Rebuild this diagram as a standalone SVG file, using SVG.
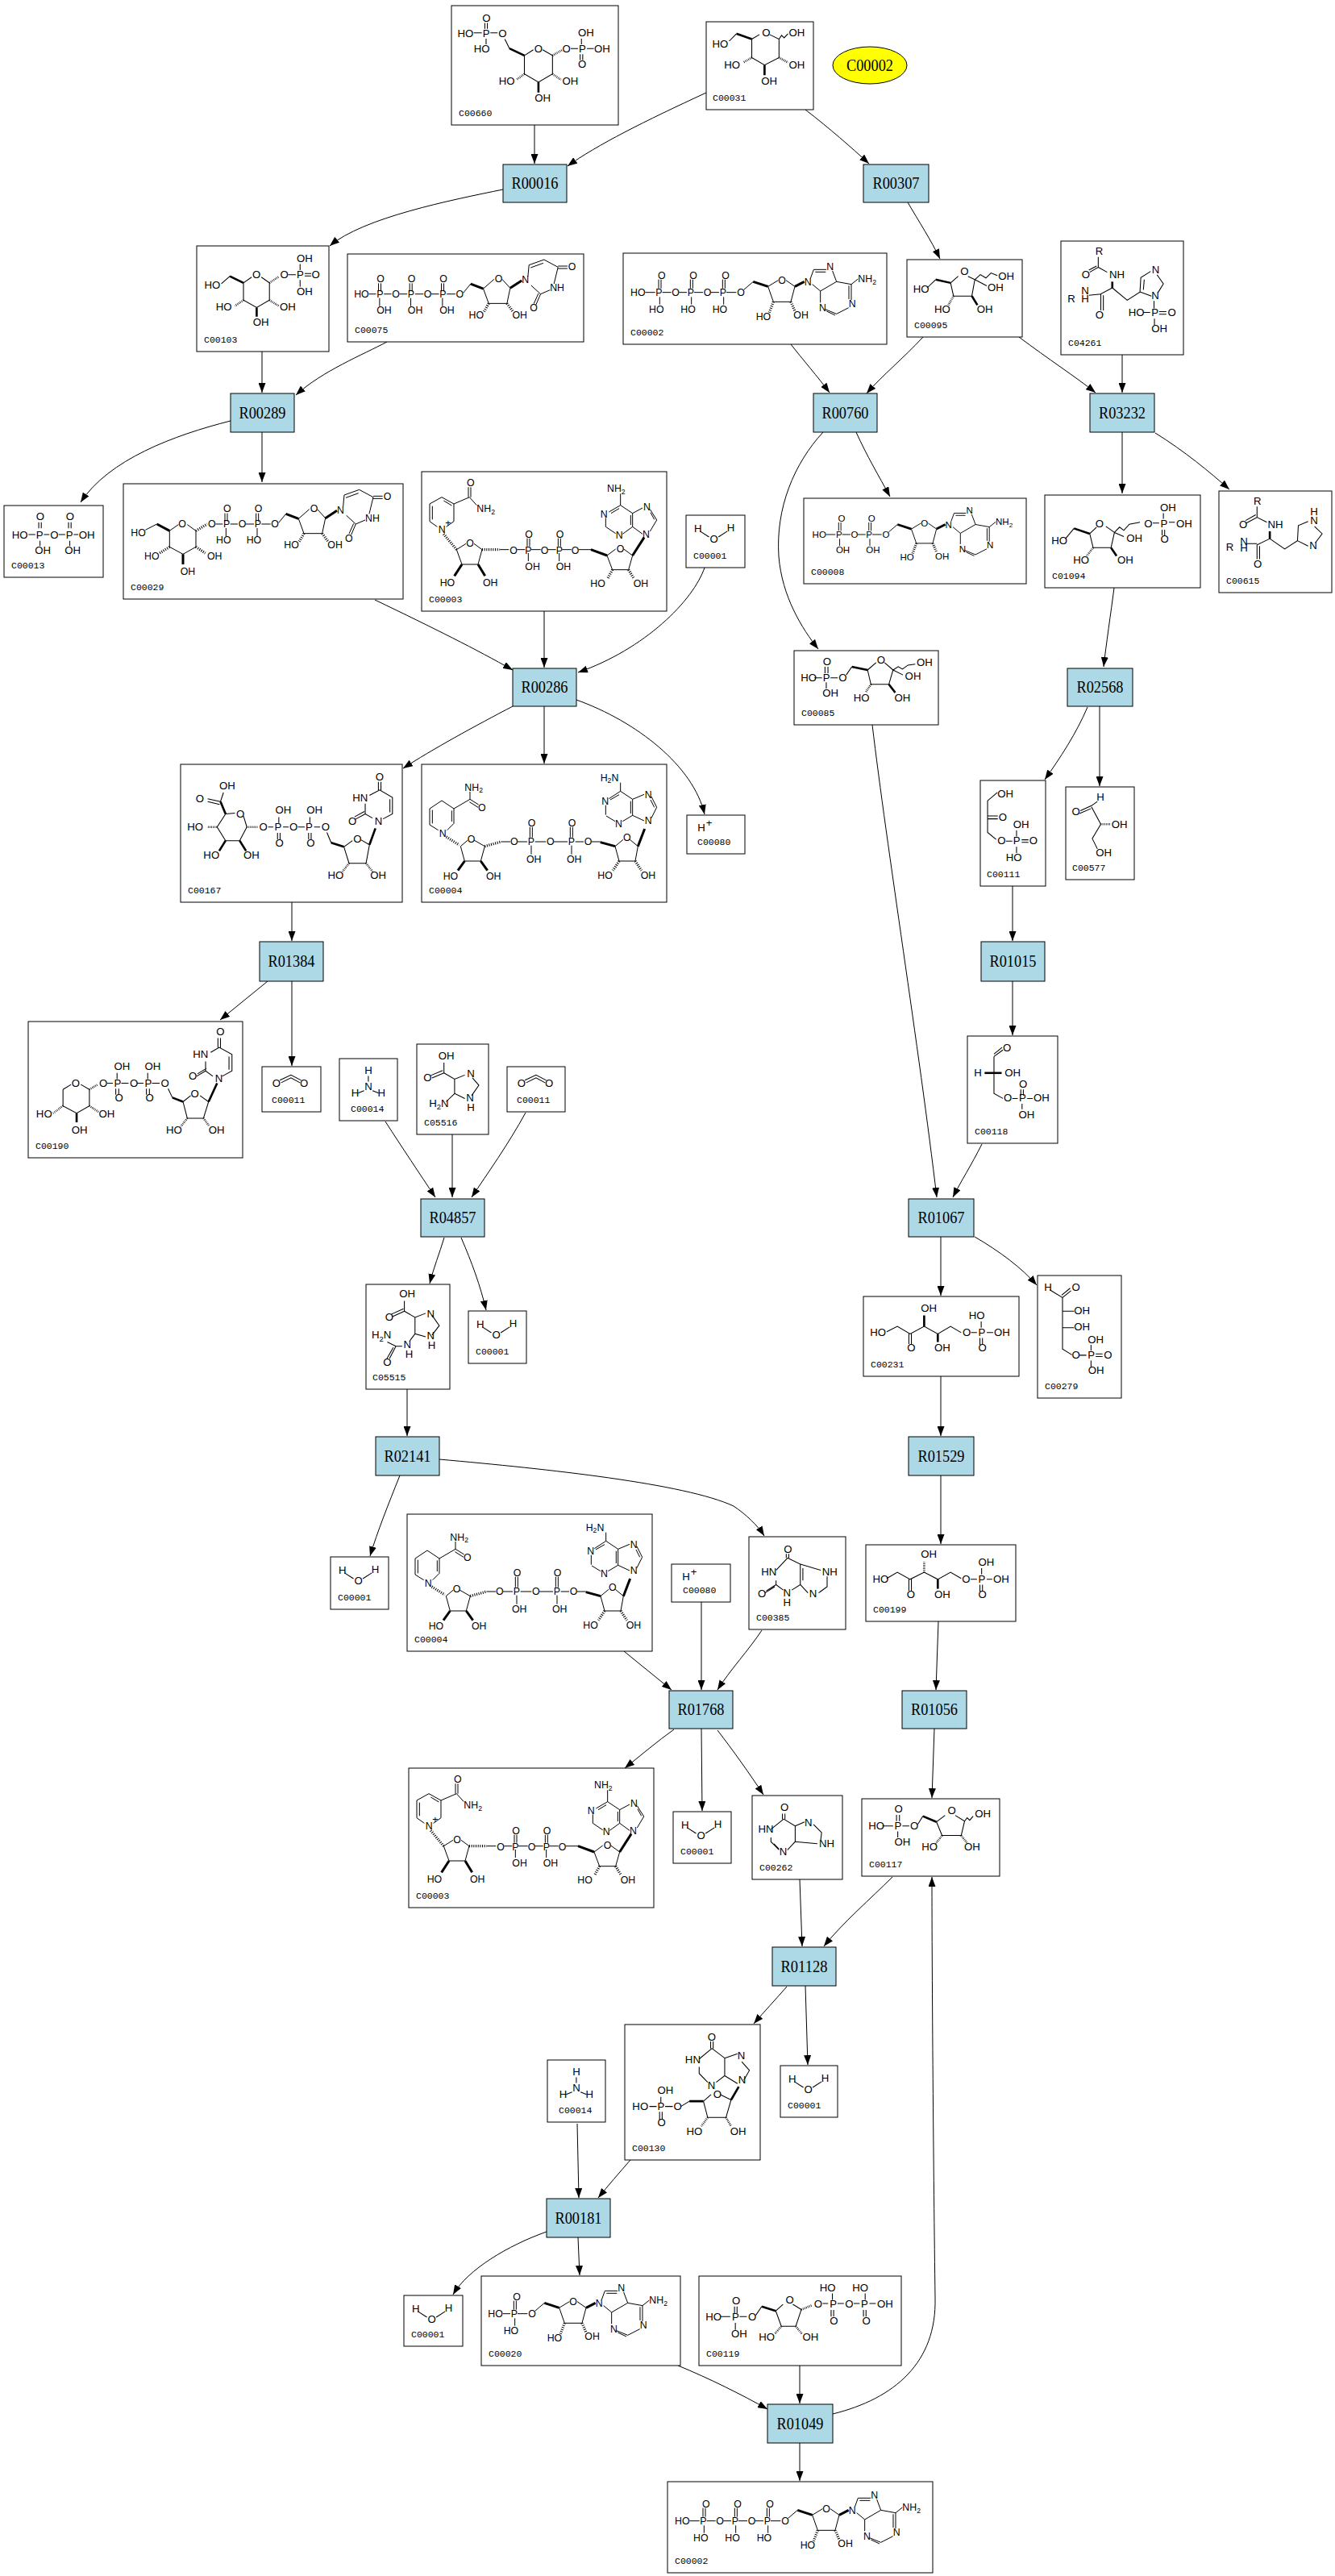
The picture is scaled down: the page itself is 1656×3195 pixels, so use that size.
<svg xmlns="http://www.w3.org/2000/svg" xmlns:xlink="http://www.w3.org/1999/xlink" width="1656" height="3195" viewBox="0 0 1656 3195">
<style>
.s text{font-family:"Liberation Sans",Arial,sans-serif;font-size:25px;fill:#000}
.s path{stroke:#000;stroke-width:2;fill:none}
.s path.w{stroke-width:5}
.s path.h{stroke-width:5;stroke-dasharray:1.5 2.5}
.sub{font-size:18px}
.t text{font-size:37px}
.t .sub{font-size:26px}
.t path{stroke-width:3}
.t path.w{stroke-width:9}
.t path.h{stroke-width:10;stroke-dasharray:3 5}
.lbl{font-family:"Liberation Mono",monospace;font-size:11.5px;fill:#000}
.rn rect{fill:#add8e6;stroke:#000;stroke-width:1}
.rn text,.en text{font-family:"Liberation Serif",serif;font-size:20px;text-anchor:middle;fill:#000}
.cn>rect{fill:#fff;stroke:#000;stroke-width:1}
#edges path{stroke:#000;stroke-width:1;fill:none;marker-end:url(#ah)}
</style>
<defs>
<marker id="ah" markerWidth="12" markerHeight="9" refX="12" refY="4.5" orient="auto" markerUnits="userSpaceOnUse"><path d="M0,0L12,4.5L0,9z" fill="#000"/></marker>
<g id="h2o" class="s"><text x="63" y="1295">H</text><text x="100" y="1320">O</text><text x="140" y="1293">H</text><path d="M77,1292L98,1306M120,1306L141,1292"/></g>
<g id="hplus" class="s"><text x="70" y="492">H</text><text x="90" y="480" font-size="16">+</text></g>
<g id="co2" class="s"><text x="640" y="1115">O</text><text x="705" y="1115">O</text><path d="M658,1098L684,1085L708,1098M661,1104L684,1092L705,1104"/></g>
<g id="nh3" class="s"><text x="857" y="1082">H</text><text x="826" y="1137">H</text><text x="857" y="1120">N</text><text x="888" y="1137">H</text><path d="M866,1086V1100M856,1122L842,1128M876,1122L890,1128"/></g>
<g id="nad" class="s t">
<text x="168" y="55">O</text><text x="205" y="150">NH<tspan class="sub" dy="8">2</tspan></text><text x="62" y="228">N</text><text x="88" y="205" font-size="24">+</text>
<text x="166" y="280">O</text><text x="68" y="425">HO</text><text x="228" y="425">OH</text>
<text x="328" y="305">O</text><text x="385" y="305">P</text><text x="443" y="305">O</text><text x="500" y="305">P</text><text x="557" y="305">O</text>
<text x="385" y="245">O</text><text x="500" y="245">O</text><text x="385" y="365">OH</text><text x="500" y="365">OH</text>
<text x="725" y="300">O</text><text x="628" y="430">HO</text><text x="788" y="430">OH</text>
<text x="690" y="75">NH<tspan class="sub" dy="8">2</tspan></text><text x="665" y="170">N</text><text x="722" y="250">N</text><text x="825" y="145">N</text><text x="822" y="245">N</text>
<path d="M75,95L120,120V185M120,185L92,205M58,205L30,185V120L75,95M40,128V178M82,108L112,126M120,120L178,95M174,95V58M183,95V58M178,95L205,125M130,290L165,268M195,268L225,290L210,345H150L130,290M290,290H325M355,290H385M408,290H443M470,290H500M523,290H557M393,248V278M402,248V278M508,248V278M517,248V278M397,303V333M512,303V333M585,290H630M690,312L722,288M752,288L785,312L770,365H710L690,312M785,155L822,135M850,140L875,180L850,222M822,232L785,205V155L740,125V82M740,125L697,150M685,172V205L722,230M748,232L785,205M778,162V198M852,152L866,178M735,137L705,155"/>
<path class="w" d="M150,345L122,388M210,345L236,388M630,290L690,312M785,312L828,245"/>
<path class="h" d="M82,232L130,290M225,290H290M710,365L692,398M770,365L790,398"/>
</g>
<g id="nadh" class="s t">
<text x="160" y="98">NH<tspan class="sub" dy="8">2</tspan></text><text x="210" y="175">O</text><text x="65" y="270">N</text><text x="170" y="290">O</text><text x="80" y="428">HO</text><text x="240" y="428">OH</text>
<text x="330" y="300">O</text><text x="395" y="300">P</text><text x="465" y="300">O</text><text x="545" y="300">P</text><text x="605" y="300">O</text>
<text x="395" y="230">O</text><text x="545" y="230">O</text><text x="390" y="365">OH</text><text x="540" y="365">OH</text>
<text x="750" y="285">O</text><text x="655" y="425">HO</text><text x="815" y="425">OH</text>
<text x="665" y="62">H<tspan class="sub" dy="8">2</tspan><tspan dy="-8">N</tspan></text><text x="670" y="150">N</text><text x="720" y="235">N</text><text x="830" y="125">N</text><text x="830" y="222">N</text>
<path d="M75,135L120,165V220M120,220L95,245M62,245L30,225V165L75,135M40,170V220M112,172V213M120,165L180,130V102M180,130L212,150M178,140L210,160M145,305L172,282M195,282L235,305L220,360H160L145,305M295,288H330M357,288H393M422,288H463M492,288H543M572,288H603M403,233V272M412,233V272M553,233V272M562,233V272M408,302V335M558,302V335M632,288H665M720,305L750,280M775,280L805,305L795,360H735L720,305M740,100V68M740,100L697,128M685,152V188M687,192L720,212M748,212L785,190V130L740,100M735,113L702,132M778,137V183M785,130L828,112M855,120L875,160L855,200M828,210L785,190M852,132L866,160"/>
<path class="w" d="M160,360L135,395M220,360L245,395M665,290L720,305M805,305L830,240"/>
<path class="h" d="M92,270L140,300M235,305L295,288M735,360L712,395M795,360L818,395"/>
</g>
<g id="ado" class="s t">
<text x="175" y="153">O</text><text x="328" y="108">O</text><text x="245" y="243">HO</text><text x="385" y="238">OH</text><text x="425" y="113">N</text><text x="508" y="58">N</text><text x="625" y="103">NH<tspan class="sub" dy="8">2</tspan></text><text x="590" y="195">N</text><text x="480" y="210">N</text>
<path d="M200,130L235,100M290,118L328,95M357,95L390,118L375,175H310L290,118M448,88L460,55H507M466,64H505M530,60L545,100L485,135L455,110M485,135V178M503,203L545,220L590,197M600,168V110M591,165V115M600,110L545,100M600,110L625,90M508,210L540,225"/>
<path class="w" d="M235,100L290,118M390,118L425,100"/>
<path class="h" d="M310,175L295,215M375,175L390,210"/>
</g>
<g id="atp" class="s t">
<use xlink:href="#ado" href="#ado"/>
<text x="-222" y="153">HO</text><text x="-128" y="153">P</text><text x="-68" y="153">O</text><text x="-10" y="153">P</text><text x="50" y="153">O</text><text x="110" y="153">P</text>
<text x="-120" y="90">O</text><text x="-2" y="90">O</text><text x="118" y="90">O</text>
<text x="-153" y="215">HO</text><text x="-35" y="215">HO</text><text x="83" y="215">HO</text>
<path d="M-167,140H-130M-103,140H-70M-41,140H-12M15,140H48M77,140H108M135,140H172M-117,92V125M-108,92V125M1,92V125M10,92V125M121,92V125M130,92V125M-113,157V185M5,157V185M125,157V185"/>
</g>
<g id="urd" class="s t">
<text x="550" y="162">O</text><text x="695" y="105">O</text><text x="598" y="240">HO</text><text x="760" y="240">OH</text><text x="795" y="110">N</text><text x="900" y="140">NH</text><text x="968" y="60">O</text><text x="825" y="215">O</text>
<path d="M578,145L605,112M652,130L692,95M722,95L752,128L740,185H672L652,130M818,85L822,42L878,22M828,52L875,35M878,22L930,50M930,46H965M930,55H965M930,50L915,112M900,135L865,150L830,118M865,150L848,190M857,148L840,186"/>
<path class="w" d="M605,112L652,130M752,128L795,100"/>
<path class="h" d="M672,185L655,215M740,185L762,215"/>
</g>
</defs>
<rect width="1656" height="3195" fill="#fff"/>

<g id="edges">
<path d="M663,155L663,203"/>
<path d="M876,115C800,150 740,180 704,206"/>
<path d="M999,136C1030,160 1055,182 1078,203"/>
<path d="M624,235C560,248 450,270 409,305"/>
<path d="M1126,251C1140,275 1155,298 1166,321"/>
<path d="M325,436L325,487"/>
<path d="M480,424C450,440 400,460 367,490"/>
<path d="M286,522C215,540 135,570 100,623"/>
<path d="M325,536L325,598"/>
<path d="M981,427C995,445 1015,468 1029,487"/>
<path d="M1145,418C1120,445 1095,465 1075,488"/>
<path d="M1264,418C1300,445 1335,468 1359,487"/>
<path d="M1392,440L1392,487"/>
<path d="M1062,536C1075,565 1090,590 1104,616"/>
<path d="M1021,536C985,575 962,630 966,690C970,740 995,780 1015,805"/>
<path d="M1392,536L1392,612"/>
<path d="M1433,537C1470,560 1500,585 1525,607"/>
<path d="M874,704C860,745 800,805 717,834"/>
<path d="M465,744C540,780 590,805 636,831"/>
<path d="M675,758L675,828"/>
<path d="M636,876C590,900 535,930 500,953"/>
<path d="M675,876L675,947"/>
<path d="M715,868C790,895 860,950 874,1010"/>
<path d="M362,1119L362,1167"/>
<path d="M332,1217L273,1265"/>
<path d="M362,1217L362,1322"/>
<path d="M478,1391C500,1425 520,1455 540,1485"/>
<path d="M561,1407L561,1485"/>
<path d="M652,1380C630,1420 605,1455 585,1485"/>
<path d="M1082,899C1100,1050 1140,1300 1162,1485"/>
<path d="M1382,729C1378,760 1372,800 1369,827"/>
<path d="M1349,877C1335,910 1315,940 1296,967"/>
<path d="M1364,876L1364,975"/>
<path d="M1256,1099L1256,1167"/>
<path d="M1256,1217L1256,1284"/>
<path d="M1218,1419C1205,1445 1192,1465 1182,1485"/>
<path d="M1167,1534L1167,1607"/>
<path d="M1209,1534C1240,1552 1268,1573 1286,1594"/>
<path d="M551,1535C545,1555 538,1572 533,1592"/>
<path d="M572,1535C585,1565 596,1595 603,1625"/>
<path d="M505,1723L505,1781"/>
<path d="M496,1830C482,1865 468,1900 459,1930"/>
<path d="M545,1810C680,1822 850,1840 910,1868C925,1878 940,1892 948,1905"/>
<path d="M774,2048L833,2096"/>
<path d="M870,1987L870,2096"/>
<path d="M945,2022C930,2045 905,2072 890,2096"/>
<path d="M836,2145C815,2160 795,2177 775,2193"/>
<path d="M870,2144L871,2246"/>
<path d="M890,2146C910,2172 930,2200 947,2226"/>
<path d="M1167,1707L1167,1781"/>
<path d="M1167,1830L1167,1915"/>
<path d="M1164,2011L1161,2096"/>
<path d="M1159,2144L1156,2230"/>
<path d="M992,2331L995,2414"/>
<path d="M1107,2328C1080,2355 1045,2385 1022,2414"/>
<path d="M1033,2994C1110,2975 1162,2930 1160,2850C1158,2700 1156,2450 1156,2328"/>
<path d="M976,2464C962,2480 948,2495 935,2510"/>
<path d="M999,2463L1002,2561"/>
<path d="M716,2634L718,2726"/>
<path d="M782,2679C768,2695 755,2710 742,2726"/>
<path d="M678,2768C630,2785 580,2815 562,2846"/>
<path d="M717,2775L719,2822"/>
<path d="M841,2934C880,2950 920,2970 952,2988"/>
<path d="M992,2934L992,2981"/>
<path d="M992,3030L992,3077"/>
</g>

<g id="R00016" class="rn"><rect x="624" y="204" width="79" height="47"/><text x="663.5" y="234" textLength="58" lengthAdjust="spacingAndGlyphs">R00016</text></g>
<g id="R00307" class="rn"><rect x="1071" y="204" width="81" height="47"/><text x="1111.5" y="234" textLength="58" lengthAdjust="spacingAndGlyphs">R00307</text></g>
<g id="R00289" class="rn"><rect x="286" y="488" width="79" height="48"/><text x="325.5" y="519" textLength="58" lengthAdjust="spacingAndGlyphs">R00289</text></g>
<g id="R00760" class="rn"><rect x="1009" y="488" width="79" height="48"/><text x="1048.5" y="519" textLength="58" lengthAdjust="spacingAndGlyphs">R00760</text></g>
<g id="R03232" class="rn"><rect x="1352" y="488" width="80" height="48"/><text x="1392" y="519" textLength="58" lengthAdjust="spacingAndGlyphs">R03232</text></g>
<g id="R00286" class="rn"><rect x="636" y="829" width="79" height="47"/><text x="675.5" y="859" textLength="58" lengthAdjust="spacingAndGlyphs">R00286</text></g>
<g id="R02568" class="rn"><rect x="1324" y="829" width="81" height="47"/><text x="1364.5" y="859" textLength="58" lengthAdjust="spacingAndGlyphs">R02568</text></g>
<g id="R01384" class="rn"><rect x="322" y="1168" width="79" height="49"/><text x="361.5" y="1199" textLength="58" lengthAdjust="spacingAndGlyphs">R01384</text></g>
<g id="R01015" class="rn"><rect x="1217" y="1168" width="79" height="49"/><text x="1256.5" y="1199" textLength="58" lengthAdjust="spacingAndGlyphs">R01015</text></g>
<g id="R04857" class="rn"><rect x="522" y="1487" width="79" height="47"/><text x="561.5" y="1517" textLength="58" lengthAdjust="spacingAndGlyphs">R04857</text></g>
<g id="R01067" class="rn"><rect x="1127" y="1487" width="81" height="47"/><text x="1167.5" y="1517" textLength="58" lengthAdjust="spacingAndGlyphs">R01067</text></g>
<g id="R02141" class="rn"><rect x="466" y="1782" width="79" height="48"/><text x="505.5" y="1813" textLength="58" lengthAdjust="spacingAndGlyphs">R02141</text></g>
<g id="R01529" class="rn"><rect x="1127" y="1782" width="81" height="48"/><text x="1167.5" y="1813" textLength="58" lengthAdjust="spacingAndGlyphs">R01529</text></g>
<g id="R01768" class="rn"><rect x="830" y="2097" width="79" height="47"/><text x="869.5" y="2127" textLength="58" lengthAdjust="spacingAndGlyphs">R01768</text></g>
<g id="R01056" class="rn"><rect x="1119" y="2097" width="80" height="47"/><text x="1159" y="2127" textLength="58" lengthAdjust="spacingAndGlyphs">R01056</text></g>
<g id="R01128" class="rn"><rect x="958" y="2415" width="79" height="48"/><text x="997.5" y="2446" textLength="58" lengthAdjust="spacingAndGlyphs">R01128</text></g>
<g id="R00181" class="rn"><rect x="678" y="2727" width="79" height="48"/><text x="717.5" y="2758" textLength="58" lengthAdjust="spacingAndGlyphs">R00181</text></g>
<g id="R01049" class="rn"><rect x="952" y="2982" width="81" height="48"/><text x="992.5" y="3013" textLength="58" lengthAdjust="spacingAndGlyphs">R01049</text></g>

<g id="C00002_title" class="en"><ellipse cx="1079" cy="81" rx="46" ry="23" fill="#ffff00" stroke="#000"/><text x="1079" y="88" textLength="58" lengthAdjust="spacingAndGlyphs">C00002</text></g>

<g id="C00660" class="cn"><rect x="560" y="7" width="207" height="148"/><text class="lbl" x="569" y="144">C00660</text>
<g class="s" transform="scale(0.528,0.51)">
<text x="1133" y="52">O</text><text x="1075" y="90">HO</text><text x="1134" y="90">P</text><text x="1171" y="90">O</text><text x="1113" y="128">HO</text><text x="1255" y="128">O</text><text x="1321" y="128">O</text><text x="1360" y="128">P</text><text x="1396" y="128">OH</text><text x="1358" y="88">OH</text><text x="1358" y="165">O</text><text x="1172" y="205">HO</text><text x="1321" y="205">OH</text><text x="1256" y="247">OH</text>
<path d="M1139,56V70M1145,56V70M1113,80H1132M1152,80H1169M1142,94V108M1186,95L1197,118M1232,135L1253,121M1275,121L1298,135V180L1265,200L1232,180V135M1341,118H1358M1379,118H1395M1366,94V108M1363,132V146M1369,132V146"/>
<path class="w" d="M1197,118L1232,135M1265,200V225"/>
<path class="h" d="M1298,135L1320,122M1232,180L1213,194M1298,180L1318,194"/>
</g></g>

<g id="C00031" class="cn"><rect x="876" y="27" width="133" height="109"/><text class="lbl" x="884" y="125">C00031</text>
<g class="s" transform="translate(828,0) scale(0.528,0.51)">
<text x="105" y="115">HO</text><text x="222" y="88">O</text><text x="285" y="88">OH</text><text x="133" y="167">HO</text><text x="285" y="167">OH</text><text x="220" y="205">OH</text>
<path d="M145,100L162,82M198,95L216,84M240,84L262,95V140L228,158L198,140V95M262,95L268,86L274,92L283,82"/>
<path class="w" d="M162,82L198,95M228,158V183"/>
<path class="h" d="M198,140L178,152M262,140L283,152"/>
</g></g>

<g id="C00103" class="cn"><rect x="244" y="305" width="164" height="131"/><text class="lbl" x="253" y="425">C00103</text>
<g class="s" transform="scale(0.528,0.51)">
<text x="697" y="637">OH</text><text x="658" y="677">O</text><text x="697" y="677">P</text><text x="732" y="677">O</text><text x="697" y="718">OH</text><text x="593" y="677">O</text><text x="480" y="702">HO</text><text x="507" y="755">HO</text><text x="657" y="755">OH</text><text x="594" y="793">OH</text>
<path d="M572,688L591,674M614,674L633,688V730L603,748L572,730V688M677,668H695M716,665H731M716,671H731M705,642V657M705,681V697M540,672L520,690"/>
<path class="w" d="M540,672L572,688M603,748V770"/>
<path class="h" d="M633,688L656,672M572,730L552,744M633,730L655,744"/>
</g></g>

<g id="C00075" class="cn"><rect x="431" y="315" width="293" height="109"/><text class="lbl" x="440" y="413">C00075</text>
<g class="s t" transform="translate(382.2,314.7) scale(0.33333)">
<use xlink:href="#urd" href="#urd"/>
<text x="171" y="162">HO</text><text x="255" y="162">P</text><text x="312" y="162">O</text><text x="371" y="162">P</text><text x="431" y="162">O</text><text x="489" y="162">P</text>
<text x="255" y="105">O</text><text x="371" y="105">O</text><text x="489" y="105">O</text><text x="255" y="222">OH</text><text x="371" y="222">OH</text><text x="489" y="222">OH</text>
<path d="M226,150H253M282,150H310M340,150H369M398,150H429M458,150H487M516,150H548M262,110V140M271,110V140M378,110V140M387,110V140M496,110V140M505,110V140M266,165V195M382,165V195M500,165V195"/>
</g></g>

<g id="C00002_1" class="cn"><rect x="773" y="314" width="327" height="113"/><text class="lbl" x="782" y="416">C00002</text>
<use xlink:href="#atp" href="#atp" transform="translate(856,316) scale(0.33333)"/></g>

<g id="C00095" class="cn"><rect x="1125" y="322" width="143" height="96"/><text class="lbl" x="1134" y="407">C00095</text>
<g class="s" transform="translate(828,0) scale(0.528,0.51)">
<text x="688" y="668">O</text><text x="777" y="680">OH</text><text x="752" y="707">OH</text><text x="577" y="712">HO</text><text x="627" y="760">HO</text><text x="727" y="760">OH</text>
<path d="M610,700L630,680M665,688L683,672M706,672L722,680L715,720H672L665,688M722,680L735,668L748,676L760,664L775,670M722,680L750,695"/>
<path class="w" d="M630,680L665,688M715,720L728,742"/>
<path class="h" d="M672,720L660,742"/>
</g></g>

<g id="C04261" class="cn"><rect x="1316" y="299" width="152" height="141"/><text class="lbl" x="1325" y="429">C04261</text>
<g class="s" transform="translate(828,0) scale(0.528,0.51)">
<text x="1005" y="620">R</text><text x="973" y="677">O</text><text x="1038" y="677">NH</text><text x="940" y="735">R</text><text x="972" y="715">N</text><text x="972" y="735">H</text><text x="1005" y="775">O</text><text x="1138" y="665">N</text><text x="1137" y="727">N</text><text x="1083" y="768">HO</text><text x="1137" y="768">P</text><text x="1175" y="768">O</text><text x="1137" y="807">OH</text>
<path d="M1012,625V650L992,662M1008,647L990,657M1012,650L1033,662M1045,700L1018,715V755M1024,718V755M990,718L1018,715M1045,700L1080,730L1110,710L1112,675L1135,660M1150,668L1165,690L1152,712M1137,720L1110,710M1118,705L1120,680M1143,732V750M1118,760H1134M1155,758H1172M1155,764H1172M1144,775V790"/>
<path class="w" d="M1045,685V700"/>
</g></g>

<g id="C00013" class="cn"><rect x="5" y="627" width="123" height="89"/><text class="lbl" x="14" y="705">C00013</text>
<g class="s" transform="scale(0.528,0.51)">
<text x="85" y="1265">O</text><text x="155" y="1265">O</text><text x="28" y="1310">HO</text><text x="85" y="1310">P</text><text x="118" y="1310">O</text><text x="155" y="1310">P</text><text x="185" y="1310">OH</text><text x="82" y="1348">OH</text><text x="152" y="1348">OH</text>
<path d="M91,1270V1285M97,1270V1285M161,1270V1285M167,1270V1285M67,1300H83M103,1300H116M138,1300H153M173,1300H184M94,1315V1328M164,1315V1328"/>
</g></g>

<g id="C00029" class="cn"><rect x="153" y="600" width="347" height="143"/><text class="lbl" x="162" y="732">C00029</text>
<g class="s t" transform="translate(153,600) scale(0.33333)">
<use xlink:href="#urd" href="#urd"/>
<text x="28" y="195">HO</text><text x="205" y="162">O</text><text x="315" y="162">O</text><text x="372" y="162">P</text><text x="428" y="162">O</text><text x="488" y="162">P</text><text x="372" y="105">O</text><text x="488" y="105">O</text><text x="345" y="222">HO</text><text x="458" y="222">HO</text><text x="78" y="282">HO</text><text x="312" y="282">OH</text><text x="212" y="340">OH</text>
<path d="M82,172L125,150M172,175L205,152M238,152L270,175V235L222,262L172,235V175M343,150H370M398,150H426M455,150H486M514,150H548M378,110V140M387,110V140M494,110V140M503,110V140M382,165V195M498,165V195"/>
<path class="w" d="M125,150L172,175M222,262V300"/>
<path class="h" d="M172,235L135,258M270,235L305,258M270,175L312,150"/>
</g></g>

<g id="C00003_1" class="cn"><rect x="523" y="585" width="304" height="173"/><text class="lbl" x="532" y="747">C00003</text>
<use xlink:href="#nad" href="#nad" transform="translate(523,585) scale(0.33333)"/></g>

<g id="C00001_1" class="cn"><rect x="851" y="639" width="73" height="65"/><text class="lbl" x="860" y="693">C00001</text>
<use xlink:href="#h2o" href="#h2o" transform="translate(851,639) scale(0.528,0.51) translate(-44,-1253)"/></g>

<g id="C00008" class="cn"><rect x="997" y="618" width="276" height="106"/><text class="lbl" x="1006" y="713">C00008</text>
<g class="s t" transform="translate(1040,619.3) scale(0.312)">
<use xlink:href="#ado" href="#ado"/>
<text x="-104" y="153">HO</text><text x="-10" y="153">P</text><text x="50" y="153">O</text><text x="110" y="153">P</text><text x="-2" y="90">O</text><text x="118" y="90">O</text><text x="-10" y="215">OH</text><text x="110" y="215">OH</text>
<path d="M-49,140H-12M15,140H48M77,140H108M135,140H172M1,92V125M10,92V125M121,92V125M130,92V125M5,157V185M125,157V185"/>
</g></g>

<g id="C01094" class="cn"><rect x="1296" y="614" width="193" height="115"/><text class="lbl" x="1305" y="718">C01094</text>
<g class="s" transform="translate(828,0) scale(0.528,0.51)">
<text x="1005" y="1282">O</text><text x="1157" y="1243">OH</text><text x="1120" y="1282">O</text><text x="1158" y="1282">P</text><text x="1195" y="1282">OH</text><text x="1158" y="1320">O</text><text x="1078" y="1318">OH</text><text x="902" y="1323">HO</text><text x="953" y="1370">HO</text><text x="1057" y="1370">OH</text>
<path d="M935,1310L955,1285M992,1298L1008,1282M1030,1280L1050,1295L1042,1332H1000L992,1298M1050,1295L1062,1282L1072,1290L1085,1275L1110,1270M1050,1295L1072,1305M1140,1272H1155M1178,1270H1192M1165,1248V1262M1162,1288V1302M1168,1288V1302"/>
<path class="w" d="M955,1285L992,1298M1042,1332L1055,1352"/>
<path class="h" d="M1000,1332L985,1352"/>
</g></g>

<g id="C00615" class="cn"><rect x="1512" y="609" width="140" height="126"/><text class="lbl" x="1521" y="724">C00615</text>
<g class="s" transform="translate(828,0) scale(0.528,0.51)">
<text x="1377" y="1228">R</text><text x="1343" y="1285">O</text><text x="1410" y="1285">NH</text><text x="1312" y="1340">R</text><text x="1345" y="1325">N</text><text x="1345" y="1342">H</text><text x="1377" y="1380">O</text><text x="1510" y="1252">H</text><text x="1510" y="1275">N</text><text x="1508" y="1335">N</text>
<path d="M1385,1232V1258L1360,1272M1382,1252L1358,1266M1385,1258L1408,1270M1415,1310L1385,1325V1360M1391,1328V1360M1360,1322H1385M1415,1310L1450,1335L1480,1315L1482,1278L1505,1268M1520,1280L1538,1298L1522,1320M1505,1328L1480,1315"/>
<path class="w" d="M1415,1292V1310"/>
</g></g>

<g id="C00085" class="cn"><rect x="985" y="807" width="179" height="92"/><text class="lbl" x="994" y="888">C00085</text>
<g class="s" transform="translate(828,780) scale(0.528,0.51)">
<text x="365" y="88">O</text><text x="313" y="127">HO</text><text x="365" y="127">P</text><text x="402" y="127">O</text><text x="364" y="165">OH</text><text x="492" y="85">O</text><text x="585" y="90">OH</text><text x="558" y="123">OH</text><text x="437" y="177">HO</text><text x="533" y="177">OH</text>
<path d="M370,92V108M377,92V108M345,119H363M383,119H400M373,130V145M420,112L433,92M470,100L490,82M510,82L530,100L520,135H478L470,100M530,100L542,92L552,98L565,88L582,86M530,100L553,112"/>
<path class="w" d="M433,92L470,100M520,135L535,155"/>
<path class="h" d="M478,135L465,155"/>
</g></g>

<g id="C00167" class="cn"><rect x="224" y="948" width="275" height="171"/><text class="lbl" x="233" y="1108">C00167</text>
<g class="s" transform="translate(0,780) scale(0.528,0.51)">
<text x="515" y="390">OH</text><text x="460" y="422">O</text><text x="440" y="491">HO</text><text x="555" y="459">O</text><text x="609" y="491">O</text><text x="645" y="491">P</text><text x="680" y="491">O</text><text x="718" y="491">P</text><text x="755" y="491">O</text><text x="647" y="450">OH</text><text x="720" y="450">OH</text><text x="647" y="530">O</text><text x="720" y="530">O</text><text x="478" y="558">HO</text><text x="572" y="558">OH</text><text x="830" y="520">O</text><text x="770" y="607">HO</text><text x="870" y="607">OH</text><text x="882" y="368">O</text><text x="828" y="420">HN</text><text x="818" y="477">O</text><text x="880" y="476">N</text>
<path d="M530,450L552,448M572,455L580,482L563,515H530L510,482L530,450M518,420L525,398M518,420L488,413M516,427L488,420M630,482H642M665,482H678M700,482H716M738,482H752M655,458V472M728,458V472M652,496V512M658,496V512M725,496V512M731,496V512M768,495L778,520M808,530L828,515M848,513L868,525L860,570H820L808,530M900,462L922,450V410L892,392L868,405M858,425V450L875,460M889,392V372M895,392V372M858,450L835,463M856,444L833,457M916,414V446"/>
<path class="w" d="M530,450L518,420M778,520L808,530M868,525L882,485M530,515L515,540M563,515L578,540"/>
<path class="h" d="M510,482L488,482M580,482L605,482M820,570L805,590M860,570L875,590"/>
</g></g>

<g id="C00004_1" class="cn"><rect x="523" y="948" width="304" height="171"/><text class="lbl" x="532" y="1108">C00004</text>
<use xlink:href="#nadh" href="#nadh" transform="translate(523,948) scale(0.33333)"/></g>

<g id="C00080_1" class="cn"><rect x="852" y="1011" width="72" height="48"/><text class="lbl" x="865" y="1048">C00080</text>
<use xlink:href="#hplus" href="#hplus" transform="translate(852,1011) scale(0.528,0.51) translate(-45,-452)"/></g>

<g id="C00111" class="cn"><rect x="1216" y="968" width="81" height="131"/><text class="lbl" x="1224" y="1088">C00111</text>
<g class="s" transform="translate(828,780) scale(0.528,0.51)">
<text x="775" y="410">OH</text><text x="778" y="467">O</text><text x="812" y="485">OH</text><text x="775" y="524">O</text><text x="812" y="524">P</text><text x="850" y="524">O</text><text x="795" y="565">HO</text>
<path d="M775,398L752,418V495L772,512M752,455H776M752,462H776M795,516H810M832,513H848M832,519H848M820,490V505M820,530V545"/>
</g></g>

<g id="C00577" class="cn"><rect x="1322" y="976" width="85" height="115"/><text class="lbl" x="1330" y="1080">C00577</text>
<g class="s" transform="translate(828,780) scale(0.528,0.51)">
<text x="1008" y="418">H</text><text x="950" y="452">O</text><text x="1043" y="485">OH</text><text x="1006" y="553">OH</text>
<path d="M970,442L996,430L1010,420M968,449L995,437M996,433L1018,475L998,510L1010,535"/>
<path class="h" d="M1018,475L1040,475"/>
</g></g>

<g id="C00190" class="cn"><rect x="35" y="1267" width="266" height="169"/><text class="lbl" x="44" y="1425">C00190</text>
<g class="s" transform="translate(0,780) scale(0.528,0.51)">
<text x="168" y="1113">O</text><text x="233" y="1113">O</text><text x="268" y="1113">P</text><text x="305" y="1113">O</text><text x="340" y="1113">P</text><text x="378" y="1113">O</text><text x="268" y="1073">OH</text><text x="340" y="1073">OH</text><text x="270" y="1150">O</text><text x="342" y="1150">O</text><text x="85" y="1188">HO</text><text x="232" y="1188">OH</text><text x="168" y="1228">OH</text><text x="448" y="1140">O</text><text x="390" y="1228">HO</text><text x="490" y="1228">OH</text><text x="508" y="988">O</text><text x="453" y="1043">HN</text><text x="443" y="1097">O</text><text x="505" y="1102">N</text>
<path d="M148,1120L167,1108M190,1108L210,1120V1160L180,1178L148,1160V1120M252,1105H265M285,1105H302M322,1105H337M357,1105H375M275,1080V1095M347,1080V1095M272,1118V1133M279,1118V1133M344,1118V1133M351,1118V1133M395,1118L405,1140M430,1150L448,1135M470,1135L490,1150L478,1190H440L430,1150M522,1088L545,1075V1035L515,1018L495,1030M483,1052V1075L500,1088M538,1040V1072M512,1018V995M518,1018V995M483,1075L462,1088M485,1069L464,1082"/>
<path class="w" d="M405,1140L430,1150M490,1150L510,1105M180,1178V1200"/>
<path class="h" d="M148,1160L125,1178M210,1160L232,1175M210,1120L230,1108M440,1190L425,1210M478,1190L492,1210"/>
</g></g>

<g id="C00011_1" class="cn"><rect x="325" y="1323" width="73" height="56"/><text class="lbl" x="337" y="1368">C00011</text>
<use xlink:href="#co2" href="#co2" transform="translate(325,1323) scale(0.528,0.51) translate(-616,-1065)"/></g>

<g id="C00014_1" class="cn"><rect x="421" y="1313" width="72" height="77"/><text class="lbl" x="435" y="1379">C00014</text>
<use xlink:href="#nh3" href="#nh3" transform="translate(421,1313) scale(0.528,0.51) translate(-798,-1044)"/></g>

<g id="C05516" class="cn"><rect x="517" y="1295" width="89" height="112"/><text class="lbl" x="526" y="1396">C05516</text>
<g class="s" transform="translate(0,780) scale(0.528,0.51)">
<text x="1030" y="1047">OH</text><text x="995" y="1100">O</text><text x="1097" y="1090">N</text><text x="1008" y="1162">H<tspan class="sub" dy="6">2</tspan><tspan dy="-6">N</tspan></text><text x="1095" y="1150">N</text><text x="1097" y="1172">H</text>
<path d="M1043,1080V1055M1043,1080L1015,1092M1040,1074L1012,1086M1043,1080L1068,1095L1092,1085M1110,1092L1125,1110L1108,1135M1092,1142L1068,1130V1095M1068,1130L1048,1150"/>
</g></g>

<g id="C00011_2" class="cn"><rect x="629" y="1323" width="72" height="56"/><text class="lbl" x="641" y="1368">C00011</text>
<use xlink:href="#co2" href="#co2" transform="translate(629,1323) scale(0.528,0.51) translate(-616,-1065)"/></g>

<g id="C00118" class="cn"><rect x="1200" y="1285" width="112" height="133"/><text class="lbl" x="1209" y="1407">C00118</text>
<g class="s" transform="translate(828,780) scale(0.528,0.51)">
<text x="788" y="1028">O</text><text x="720" y="1088">H</text><text x="792" y="1088">OH</text><text x="826" y="1115">O</text><text x="790" y="1150">O</text><text x="826" y="1150">P</text><text x="860" y="1150">OH</text><text x="825" y="1190">OH</text>
<path d="M767,1040L788,1024M767,1034L786,1018M767,1040V1130L788,1142M810,1142H823M845,1142H858M830,1120V1135M836,1120V1135M833,1155V1168"/>
<path class="w" d="M745,1080L785,1080"/>
</g></g>

<g id="C05515" class="cn"><rect x="454" y="1593" width="104" height="130"/><text class="lbl" x="462" y="1712">C05515</text>
<g class="s" transform="translate(0,1560) scale(0.528,0.51)">
<text x="938" y="97">OH</text><text x="905" y="152">O</text><text x="1003" y="145">N</text><text x="873" y="197">H<tspan class="sub" dy="6">2</tspan><tspan dy="-6">N</tspan></text><text x="1003" y="198">N</text><text x="1005" y="222">H</text><text x="900" y="262">O</text><text x="948" y="220">N</text><text x="952" y="243">H</text>
<path d="M950,130V105M950,130L922,143M948,124L920,137M950,130L975,145L1000,135M1015,140L1032,165L1015,188M1000,192L975,185V145M975,185L962,203M945,215L930,215L910,205M930,215L915,245M924,218L909,245"/>
</g></g>

<g id="C00001_2" class="cn"><rect x="581" y="1626" width="72" height="65"/><text class="lbl" x="590" y="1680">C00001</text>
<use xlink:href="#h2o" href="#h2o" transform="translate(581,1626) scale(0.528,0.51) translate(-44,-1253)"/></g>

<g id="C00231" class="cn"><rect x="1071" y="1608" width="193" height="99"/><text class="lbl" x="1080" y="1696">C00231</text>
<g class="s" transform="translate(828,1560) scale(0.528,0.51)">
<text x="595" y="132">OH</text><text x="476" y="190">HO</text><text x="563" y="228">O</text><text x="627" y="228">OH</text><text x="693" y="190">O</text><text x="730" y="190">P</text><text x="767" y="190">OH</text><text x="708" y="150">HO</text><text x="730" y="228">O</text>
<path d="M515,180L540,167L570,185L603,167L635,185L665,167L690,182M567,185V210M573,185V210M713,182H727M750,182H765M737,155V170M734,195V212M740,195V212"/>
<path class="w" d="M603,167V140M635,185V205"/>
</g></g>

<g id="C00279" class="cn"><rect x="1287" y="1582" width="104" height="152"/><text class="lbl" x="1296" y="1723">C00279</text>
<g class="s" transform="translate(828,1560) scale(0.528,0.51)">
<text x="885" y="80">H</text><text x="950" y="80">O</text><text x="955" y="137">OH</text><text x="955" y="177">OH</text><text x="987" y="207">OH</text><text x="950" y="245">O</text><text x="987" y="245">P</text><text x="1025" y="245">O</text><text x="988" y="283">OH</text>
<path d="M898,78L928,97L948,80M926,91L946,74M928,97V222L950,236M928,130H955M928,170H955M968,237H984M1006,234H1022M1006,240H1022M995,212V226M995,250V266"/>
</g></g>

<g id="C00001_3" class="cn"><rect x="410" y="1931" width="72" height="65"/><text class="lbl" x="419" y="1985">C00001</text>
<use xlink:href="#h2o" href="#h2o" transform="translate(410,1931) scale(0.528,0.51) translate(-44,-1253)"/></g>

<g id="C00004_2" class="cn"><rect x="505" y="1878" width="304" height="170"/><text class="lbl" x="514" y="2037">C00004</text>
<use xlink:href="#nadh" href="#nadh" transform="translate(505,1878) scale(0.33333)"/></g>

<g id="C00080_2" class="cn"><rect x="833" y="1940" width="73" height="47"/><text class="lbl" x="847" y="1976">C00080</text>
<use xlink:href="#hplus" href="#hplus" transform="translate(833,1940) scale(0.528,0.51) translate(-45,-452)"/></g>

<g id="C00385" class="cn"><rect x="929" y="1906" width="120" height="115"/><text class="lbl" x="938" y="2010">C00385</text>
<g class="s" transform="translate(828,1560) scale(0.528,0.51)">
<text x="273" y="718">O</text><text x="220" y="772">HN</text><text x="363" y="772">NH</text><text x="212" y="826">O</text><text x="272" y="823">N</text><text x="272" y="848">H</text><text x="333" y="826">N</text>
<path d="M279,730V720M285,730V720M282,730L312,745V795L292,808M272,808L255,795V785M255,760L282,730M312,745L360,760M375,775V800L355,815M330,815L312,795M318,755V785M255,795L232,810M252,800L229,815"/>
</g></g>

<g id="C00199" class="cn"><rect x="1074" y="1916" width="186" height="95"/><text class="lbl" x="1083" y="2000">C00199</text>
<g class="s" transform="translate(828,1560) scale(0.528,0.51)">
<text x="595" y="730">OH</text><text x="482" y="790">HO</text><text x="562" y="828">O</text><text x="627" y="828">OH</text><text x="692" y="790">O</text><text x="730" y="790">P</text><text x="765" y="790">OH</text><text x="730" y="750">OH</text><text x="730" y="828">O</text>
<path d="M515,780L540,765L570,782L603,765L635,782L665,765L690,780M567,782V810M573,782V810M712,782H727M750,782H763M738,755V770M734,795V812M740,795V812"/>
<path class="w" d="M635,782V805"/>
<path class="h" d="M603,765V740"/>
</g></g>

<g id="C00003_2" class="cn"><rect x="507" y="2193" width="304" height="173"/><text class="lbl" x="516" y="2355">C00003</text>
<use xlink:href="#nad" href="#nad" transform="translate(507,2193) scale(0.33333)"/></g>

<g id="C00001_4" class="cn"><rect x="835" y="2247" width="72" height="64"/><text class="lbl" x="844" y="2300">C00001</text>
<use xlink:href="#h2o" href="#h2o" transform="translate(835,2247) scale(0.528,0.51) translate(-44,-1253)"/></g>

<g id="C00262" class="cn"><rect x="933" y="2227" width="112" height="104"/><text class="lbl" x="942" y="2320">C00262</text>
<g class="s" transform="translate(828,1560) scale(0.528,0.51)">
<text x="265" y="1345">O</text><text x="213" y="1398">HN</text><text x="322" y="1382">N</text><text x="356" y="1434">NH</text><text x="263" y="1452">N</text>
<path d="M270,1365V1352M276,1365V1352M273,1365L300,1382V1420L282,1440M262,1440L243,1420V1410M243,1390L273,1365M300,1382L322,1372M343,1378L362,1398L360,1416M352,1425L300,1420M250,1425L262,1438"/>
</g></g>

<g id="C00117" class="cn"><rect x="1069" y="2231" width="171" height="96"/><text class="lbl" x="1078" y="2316">C00117</text>
<g class="s" transform="translate(828,1560) scale(0.528,0.51)">
<text x="533" y="1350">O</text><text x="472" y="1390">HO</text><text x="533" y="1390">P</text><text x="570" y="1390">O</text><text x="533" y="1430">OH</text><text x="658" y="1352">O</text><text x="722" y="1360">OH</text><text x="597" y="1442">HO</text><text x="697" y="1442">OH</text>
<path d="M538,1355V1370M545,1355V1370M505,1382H530M552,1382H568M541,1395V1410M588,1378L600,1358M632,1372L652,1356M676,1356L698,1370L690,1405H645L632,1372M698,1370L704,1362L710,1368L718,1358"/>
<path class="w" d="M600,1358L632,1372"/>
<path class="h" d="M645,1405L630,1425M690,1405L705,1425"/>
</g></g>

<g id="C00130" class="cn"><rect x="775" y="2511" width="168" height="168"/><text class="lbl" x="784" y="2668">C00130</text>
<g class="s" transform="translate(400,2340) scale(0.528,0.5453)">
<text x="905" y="350">O</text><text x="852" y="402">HN</text><text x="975" y="392">N</text><text x="905" y="460">N</text><text x="977" y="448">N</text><text x="787" y="472">OH</text><text x="728" y="508">HO</text><text x="787" y="508">P</text><text x="825" y="508">O</text><text x="787" y="545">O</text><text x="918" y="480">O</text><text x="855" y="565">HO</text><text x="958" y="565">OH</text>
<path d="M912,352V368M918,352V368M915,368L945,390V430L925,445M905,445L885,425V410M885,392L915,368M945,390L975,380M985,398L1003,418L990,440M975,448L945,430M895,488L913,473M935,473L960,485L948,525H905L895,488M842,500L862,488M768,500H785M805,500H823M795,478V492M792,512V530M798,512V530"/>
<path class="w" d="M862,488L895,488M960,485L978,455"/>
<path class="h" d="M905,525L890,545M948,525L960,545"/>
</g></g>

<g id="C00001_5" class="cn"><rect x="968" y="2562" width="71" height="64"/><text class="lbl" x="977" y="2615">C00001</text>
<use xlink:href="#h2o" href="#h2o" transform="translate(968,2562) scale(0.528,0.51) translate(-44,-1253)"/></g>

<g id="C00014_2" class="cn"><rect x="679" y="2555" width="72" height="77"/><text class="lbl" x="693" y="2621">C00014</text>
<use xlink:href="#nh3" href="#nh3" transform="translate(679,2555) scale(0.528,0.51) translate(-798,-1044)"/></g>

<g id="C00001_6" class="cn"><rect x="501" y="2847" width="73" height="63"/><text class="lbl" x="510" y="2899">C00001</text>
<use xlink:href="#h2o" href="#h2o" transform="translate(501,2847) scale(0.528,0.51) translate(-44,-1253)"/></g>

<g id="C00020" class="cn"><rect x="597" y="2823" width="247" height="111"/><text class="lbl" x="606" y="2923">C00020</text>
<g class="s t" transform="translate(597,2823) scale(0.33333)">
<use xlink:href="#ado" href="#ado"/>
<text x="118" y="90">O</text><text x="25" y="153">HO</text><text x="110" y="153">P</text><text x="83" y="215">HO</text>
<path d="M121,92V125M130,92V125M80,140H108M135,140H172M125,157V185"/>
</g></g>

<g id="C00119" class="cn"><rect x="867" y="2823" width="251" height="111"/><text class="lbl" x="876" y="2923">C00119</text>
<g class="s" transform="translate(400,2340) scale(0.528,0.5453)">
<text x="962" y="950">O</text><text x="900" y="987">HO</text><text x="962" y="987">P</text><text x="1000" y="987">O</text><text x="960" y="1025">OH</text><text x="1088" y="948">O</text><text x="1155" y="958">O</text><text x="1192" y="958">P</text><text x="1228" y="958">O</text><text x="1265" y="958">P</text><text x="1303" y="958">OH</text><text x="1168" y="920">HO</text><text x="1245" y="920">HO</text><text x="1192" y="995">O</text><text x="1268" y="995">O</text><text x="1025" y="1033">HO</text><text x="1128" y="1033">OH</text>
<path d="M968,955V970M974,955V970M935,978H958M980,978H997M970,992V1008M1018,975L1032,955M1065,965L1082,950M1105,950L1125,962L1112,1000H1078L1065,965M1175,948H1188M1210,948H1225M1248,948H1262M1285,948H1300M1198,925V940M1275,925V940M1195,963V978M1201,963V978M1271,963V978M1277,963V978"/>
<path class="w" d="M1032,955L1065,965"/>
<path class="h" d="M1125,962L1150,952M1078,1000L1062,1018M1112,1000L1127,1018"/>
</g></g>

<g id="C00002_2" class="cn"><rect x="828" y="3078" width="329" height="113"/><text class="lbl" x="837" y="3180">C00002</text>
<use xlink:href="#atp" href="#atp" transform="translate(911,3080) scale(0.33333)"/></g>
</svg>
